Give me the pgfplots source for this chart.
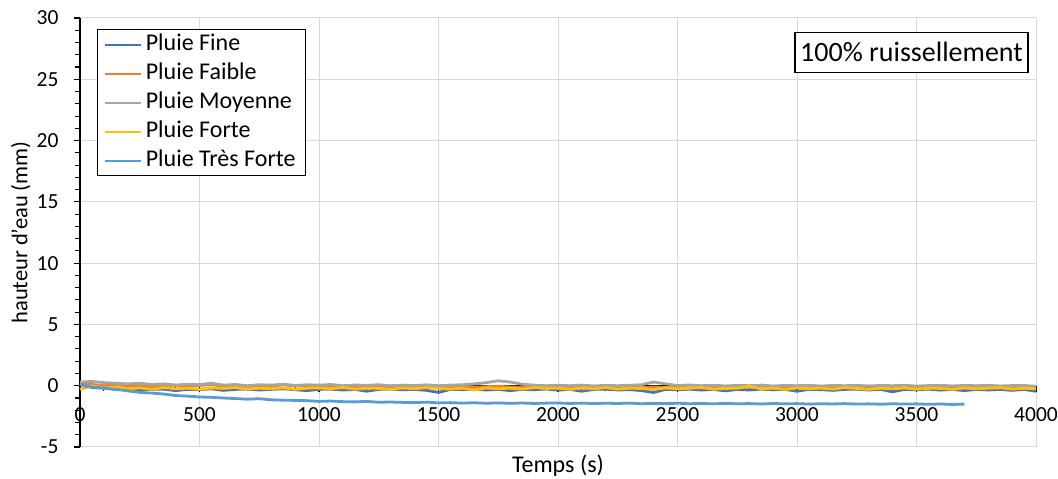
\documentclass[border=0pt]{standalone}
\usepackage{pgfplots}
\pgfplotsset{compat=1.18}
\usepackage{fontspec}
\setmainfont{Carlito}
\definecolor{cFine}{HTML}{4472C4}
\definecolor{cFaible}{HTML}{ED7D31}
\definecolor{cMoy}{HTML}{A5A5A5}
\definecolor{cForte}{HTML}{FFC000}
\definecolor{cTF}{HTML}{5B9BD5}
\definecolor{gridc}{HTML}{D9D9D9}
\begin{document}
\fontsize{22pt}{26pt}\selectfont
\begin{tikzpicture}
\begin{axis}[
  scale only axis, width=956pt, height=429pt,
  xmin=0, xmax=4000, ymin=-5, ymax=30,
  axis x line=middle, axis y line=left,
  axis line style={-, black, line width=1.3pt},
  hide obscured x ticks=false, hide obscured y ticks=false,
  xtick={0,500,...,4000}, ytick={-5,0,...,30},
  minor x tick num=4, minor y tick num=4,
  xtick style={black, line width=1.1pt},
  ytick style={black, line width=1.1pt},
  x tick label style={font=\fontsize{21.5pt}{25pt}\selectfont, yshift=-8pt},
  y tick label style={font=\fontsize{21.5pt}{25pt}\selectfont, xshift=-8pt},
  /pgf/number format/assume math mode=true,
  /pgf/number format/1000 sep={},
  major tick length=6pt, minor tick length=5pt,
  tick align=outside,
  grid=major, major grid style={gridc, line width=1pt},
  xlabel={Temps (s)}, ylabel={hauteur d'eau (mm)},
  xlabel style={at={(rel axis cs:0.5,0)}, anchor=north, yshift=-8pt, inner sep=0pt, font=\fontsize{24pt}{28pt}\selectfont},
  every axis y label/.style={at={(rel axis cs:0,0.5)}, rotate=90, anchor=south, yshift=42pt, font=\fontsize{22.5pt}{26pt}\selectfont},
  legend style={at={(axis description cs:0.0178,0.974)}, anchor=north west,
    draw=black, line width=1.2pt, fill=white, font=\fontsize{24pt}{28pt}\selectfont,
    inner xsep=6pt, inner ysep=2pt, row sep=3pt,
    nodes={inner xsep=4pt, inner ysep=2pt, text height=17pt, text depth=5pt, anchor=west}},
  legend cell align=left,
  legend image code/.code={\draw[#1, line width=2.2pt] (0pt,0pt) -- (36pt,0pt);},
  every axis plot/.append style={line width=2.8pt, line join=round},
  clip=false,
]
\addplot[cFine] coordinates {(0,0.1)(50,-0.15)(100,-0.2)(150,-0.3)(200,-0.25)(250,-0.35)(300,-0.3)(350,-0.28)(400,-0.4)(450,-0.3)(500,-0.32)(550,-0.25)(600,-0.38)(650,-0.3)(700,-0.27)(750,-0.35)(800,-0.3)(850,-0.25)(900,-0.33)(950,-0.4)(1000,-0.3)(1050,-0.28)(1100,-0.35)(1150,-0.3)(1200,-0.45)(1250,-0.3)(1300,-0.27)(1350,-0.33)(1400,-0.3)(1450,-0.38)(1500,-0.55)(1550,-0.3)(1600,-0.32)(1650,-0.28)(1700,-0.35)(1750,-0.3)(1800,-0.4)(1850,-0.3)(1900,-0.33)(1950,-0.27)(2000,-0.36)(2050,-0.3)(2100,-0.45)(2150,-0.3)(2200,-0.28)(2250,-0.35)(2300,-0.32)(2350,-0.4)(2400,-0.55)(2450,-0.3)(2500,-0.33)(2550,-0.28)(2600,-0.36)(2650,-0.3)(2700,-0.42)(2750,-0.3)(2800,-0.35)(2850,-0.28)(2900,-0.33)(2950,-0.3)(3000,-0.45)(3050,-0.3)(3100,-0.32)(3150,-0.38)(3200,-0.3)(3250,-0.28)(3300,-0.35)(3350,-0.3)(3400,-0.5)(3450,-0.3)(3500,-0.33)(3550,-0.28)(3600,-0.36)(3650,-0.3)(3700,-0.4)(3750,-0.3)(3800,-0.35)(3850,-0.3)(3900,-0.38)(3950,-0.3)(4000,-0.45)};
\addlegendentry{Pluie Fine}
\addplot[cFaible] coordinates {(0,0.2)(50,0.1)(100,0.0)(150,0.05)(200,-0.05)(250,0.0)(300,-0.08)(350,-0.02)(400,0.05)(450,-0.05)(500,0.02)(550,0.1)(600,-0.05)(650,0.02)(700,-0.08)(750,0.0)(800,-0.05)(850,0.08)(900,-0.03)(950,0.0)(1000,-0.08)(1050,-0.02)(1100,-0.1)(1150,-0.05)(1200,-0.12)(1250,-0.03)(1300,-0.08)(1350,-0.1)(1400,-0.05)(1450,-0.12)(1500,-0.07)(1550,-0.1)(1600,-0.04)(1650,-0.12)(1700,-0.08)(1750,-0.05)(1800,-0.1)(1850,-0.13)(1900,-0.06)(1950,-0.1)(2000,-0.14)(2050,-0.08)(2100,-0.12)(2150,-0.1)(2200,-0.15)(2250,-0.09)(2300,-0.12)(2350,-0.16)(2400,-0.1)(2450,-0.14)(2500,-0.12)(2550,-0.17)(2600,-0.11)(2650,-0.15)(2700,-0.13)(2750,-0.18)(2800,-0.12)(2850,-0.16)(2900,-0.14)(2950,-0.19)(3000,-0.13)(3050,-0.17)(3100,-0.15)(3150,-0.2)(3200,-0.14)(3250,-0.18)(3300,-0.16)(3350,-0.21)(3400,-0.15)(3450,-0.19)(3500,-0.17)(3550,-0.22)(3600,-0.16)(3650,-0.2)(3700,-0.18)(3750,-0.23)(3800,-0.17)(3850,-0.21)(3900,-0.19)(3950,-0.24)(4000,-0.2)};
\addlegendentry{Pluie Faible}
\addplot[cMoy] coordinates {(0,0.3)(50,0.35)(100,0.25)(150,0.2)(200,0.15)(250,0.2)(300,0.1)(350,0.15)(400,0.05)(450,0.12)(500,0.1)(550,0.2)(600,0.05)(650,0.1)(700,0.0)(750,0.08)(800,0.05)(850,0.12)(900,0.02)(950,0.08)(1000,0.05)(1050,0.1)(1100,0.0)(1150,0.06)(1200,0.03)(1250,0.08)(1300,0.0)(1350,0.05)(1400,0.02)(1450,0.07)(1500,0.0)(1550,0.05)(1600,0.08)(1650,0.15)(1700,0.25)(1750,0.4)(1800,0.3)(1850,0.12)(1900,0.05)(1950,0.0)(2000,0.04)(2050,0.0)(2100,0.05)(2150,-0.02)(2200,0.03)(2250,0.0)(2300,0.04)(2350,0.08)(2400,0.3)(2450,0.15)(2500,0.02)(2550,0.06)(2600,0.0)(2650,0.04)(2700,-0.02)(2750,0.03)(2800,0.0)(2850,0.05)(2900,-0.02)(2950,0.02)(3000,0.0)(3050,0.04)(3100,-0.03)(3150,0.02)(3200,0.0)(3250,0.03)(3300,-0.02)(3350,0.02)(3400,0.0)(3450,0.04)(3500,-0.03)(3550,0.01)(3600,0.03)(3650,-0.02)(3700,0.02)(3750,0.0)(3800,0.03)(3850,-0.02)(3900,0.01)(3950,0.02)(4000,-0.05)};
\addlegendentry{Pluie Moyenne}
\addplot[cForte] coordinates {(0,-0.3)(50,0.0)(100,-0.2)(150,-0.1)(200,-0.25)(250,-0.18)(300,-0.3)(350,-0.15)(400,-0.25)(450,-0.2)(500,-0.3)(550,-0.18)(600,-0.22)(650,-0.15)(700,-0.28)(750,-0.2)(800,-0.25)(850,-0.17)(900,-0.3)(950,-0.2)(1000,-0.18)(1050,-0.25)(1100,-0.15)(1150,-0.28)(1200,-0.2)(1250,-0.22)(1300,-0.3)(1350,-0.18)(1400,-0.25)(1450,-0.15)(1500,-0.22)(1550,-0.28)(1600,-0.2)(1650,-0.35)(1700,-0.18)(1750,-0.25)(1800,-0.2)(1850,-0.28)(1900,-0.15)(1950,-0.22)(2000,-0.2)(2050,-0.3)(2100,-0.18)(2150,-0.25)(2200,-0.15)(2250,-0.28)(2300,-0.2)(2350,-0.22)(2400,-0.3)(2450,-0.18)(2500,-0.25)(2550,-0.2)(2600,-0.15)(2650,-0.28)(2700,-0.22)(2750,-0.2)(2800,-0.05)(2850,-0.25)(2900,-0.2)(2950,-0.3)(3000,-0.18)(3050,-0.25)(3100,-0.2)(3150,-0.28)(3200,-0.15)(3250,-0.22)(3300,-0.3)(3350,-0.2)(3400,-0.25)(3450,-0.18)(3500,-0.28)(3550,-0.2)(3600,-0.22)(3650,-0.3)(3700,-0.18)(3750,-0.25)(3800,-0.2)(3850,-0.15)(3900,-0.28)(3950,-0.2)(4000,-0.25)};
\addlegendentry{Pluie Forte}
\addplot[cTF] coordinates {(0,0.1)(25,-0.05)(50,-0.1)(100,-0.2)(150,-0.3)(200,-0.42)(250,-0.55)(300,-0.6)(350,-0.68)(400,-0.8)(450,-0.85)(500,-0.92)(550,-0.95)(600,-1.0)(650,-1.05)(700,-1.1)(750,-1.06)(800,-1.15)(850,-1.18)(900,-1.2)(950,-1.22)(1000,-1.28)(1050,-1.25)(1100,-1.3)(1150,-1.32)(1200,-1.28)(1250,-1.35)(1300,-1.33)(1350,-1.36)(1400,-1.38)(1450,-1.34)(1500,-1.4)(1550,-1.38)(1600,-1.42)(1650,-1.39)(1700,-1.43)(1750,-1.4)(1800,-1.44)(1850,-1.41)(1900,-1.45)(1950,-1.42)(2000,-1.41)(2050,-1.45)(2100,-1.42)(2150,-1.46)(2200,-1.43)(2250,-1.45)(2300,-1.42)(2350,-1.47)(2400,-1.44)(2450,-1.46)(2500,-1.43)(2550,-1.47)(2600,-1.45)(2650,-1.48)(2700,-1.44)(2750,-1.47)(2800,-1.46)(2850,-1.49)(2900,-1.45)(2950,-1.48)(3000,-1.46)(3050,-1.5)(3100,-1.47)(3150,-1.49)(3200,-1.46)(3250,-1.5)(3300,-1.48)(3350,-1.51)(3400,-1.47)(3450,-1.5)(3500,-1.48)(3550,-1.52)(3600,-1.49)(3650,-1.53)(3700,-1.5)};
\addlegendentry{Pluie Très Forte}
\node[draw=black, line width=1.2pt, fill=white, minimum width=233pt, minimum height=40pt, inner sep=0pt, font=\fontsize{28pt}{32pt}\selectfont] at (axis cs:3479,27.2) {100\% ruissellement};
\end{axis}
\pgfresetboundingbox
\path ([shift={(-80pt,-32pt)}]current axis.south west) rectangle ([shift={(22pt,18pt)}]current axis.north east);
\end{tikzpicture}
\end{document}
